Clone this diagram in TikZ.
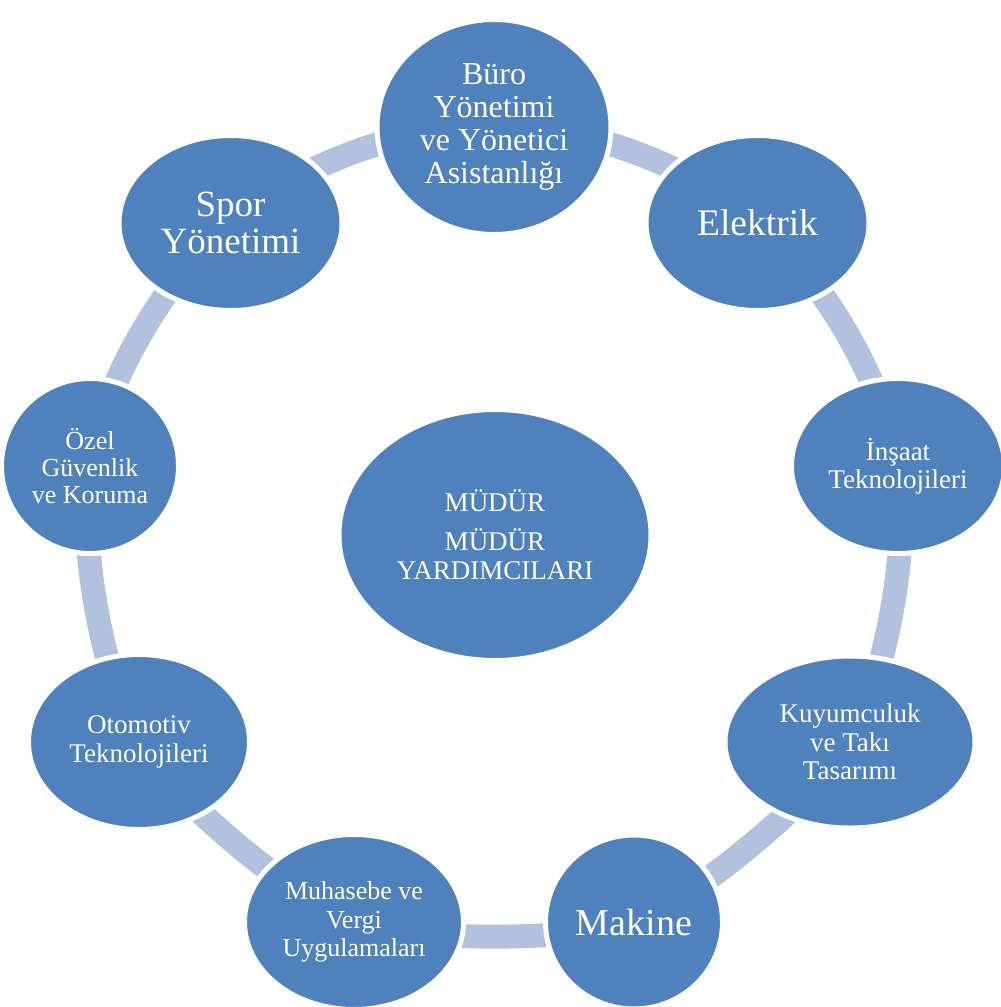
\documentclass[tikz,border=0pt]{standalone}
\usepackage{fontspec}
\setmainfont{Liberation Serif}
\usetikzlibrary{shapes.geometric,backgrounds}
\definecolor{nodeblue}{HTML}{4F81BD}
\definecolor{arcblue}{HTML}{B2C1DD}
\begin{document}
\begin{tikzpicture}[x=1pt,y=-1pt,
  bub/.style={ellipse, fill=nodeblue, draw=white, line width=5pt, inner sep=0pt, text=white, align=center},
  link/.style={draw=arcblue, line width=24pt, bend left=20}]
\useasboundingbox (0,0) rectangle (1001,1007);
\node[bub, minimum width=234pt, minimum height=215pt, font=\fontsize{32}{33}\selectfont] (buro) at (494,127) {Büro\\Yönetimi\\ve Yönetici\\Asistanlığı};
\node[bub, minimum width=223pt, minimum height=175pt, font=\fontsize{37.5}{40}\selectfont] (elek) at (757.5,223) {Elektrik};
\node[bub, minimum width=213pt, minimum height=175pt, font=\fontsize{27}{28.5}\selectfont] (insaat) at (898,466) {İnşaat\\Teknolojileri};
\node[bub, minimum width=250pt, minimum height=172pt, font=\fontsize{27}{28.5}\selectfont] (kuyum) at (850,742) {Kuyumculuk\\ve Takı\\Tasarımı};
\node[bub, minimum width=177pt, minimum height=174pt, font=\fontsize{38}{40}\selectfont] (makine) at (634,922) {Makine};
\node[bub, minimum width=219pt, minimum height=175pt, font=\fontsize{26}{28.5}\selectfont] (muhasebe) at (354,922) {Muhasebe ve\\Vergi\\Uygulamaları};
\node[bub, minimum width=221pt, minimum height=175pt, font=\fontsize{27}{28.5}\selectfont] (otomotiv) at (139,742) {Otomotiv\\Teknolojileri};
\node[bub, minimum width=177pt, minimum height=175pt, font=\fontsize{26}{27}\selectfont] (ozel) at (90,466) {Özel\\Güvenlik\\ve Koruma};
\node[bub, minimum width=223pt, minimum height=175pt, font=\fontsize{37}{37}\selectfont] (spor) at (230.5,223) {Spor\\Yönetimi};
\node[bub, minimum width=312pt, minimum height=251pt, font=\fontsize{27}{29}\selectfont] (mudur) at (495,535) {MÜDÜR\\[10pt]MÜDÜR\\YARDIMCILARI};
\begin{scope}[on background layer]
\draw[link, looseness=0.866] (buro.center) to (elek.center);
\draw[link, looseness=0.788] (elek.center) to (insaat.center);
\draw[link, looseness=0.668] (insaat.center) to (kuyum.center);
\draw[link, looseness=0.565] (kuyum.center) to (makine.center);
\draw[link, looseness=0.522] (makine.center) to (muhasebe.center);
\draw[link, looseness=0.565] (muhasebe.center) to (otomotiv.center);
\draw[link, looseness=0.668] (otomotiv.center) to (ozel.center);
\draw[link, looseness=0.788] (ozel.center) to (spor.center);
\draw[link, looseness=0.866] (spor.center) to (buro.center);
\end{scope}
\end{tikzpicture}
\end{document}
